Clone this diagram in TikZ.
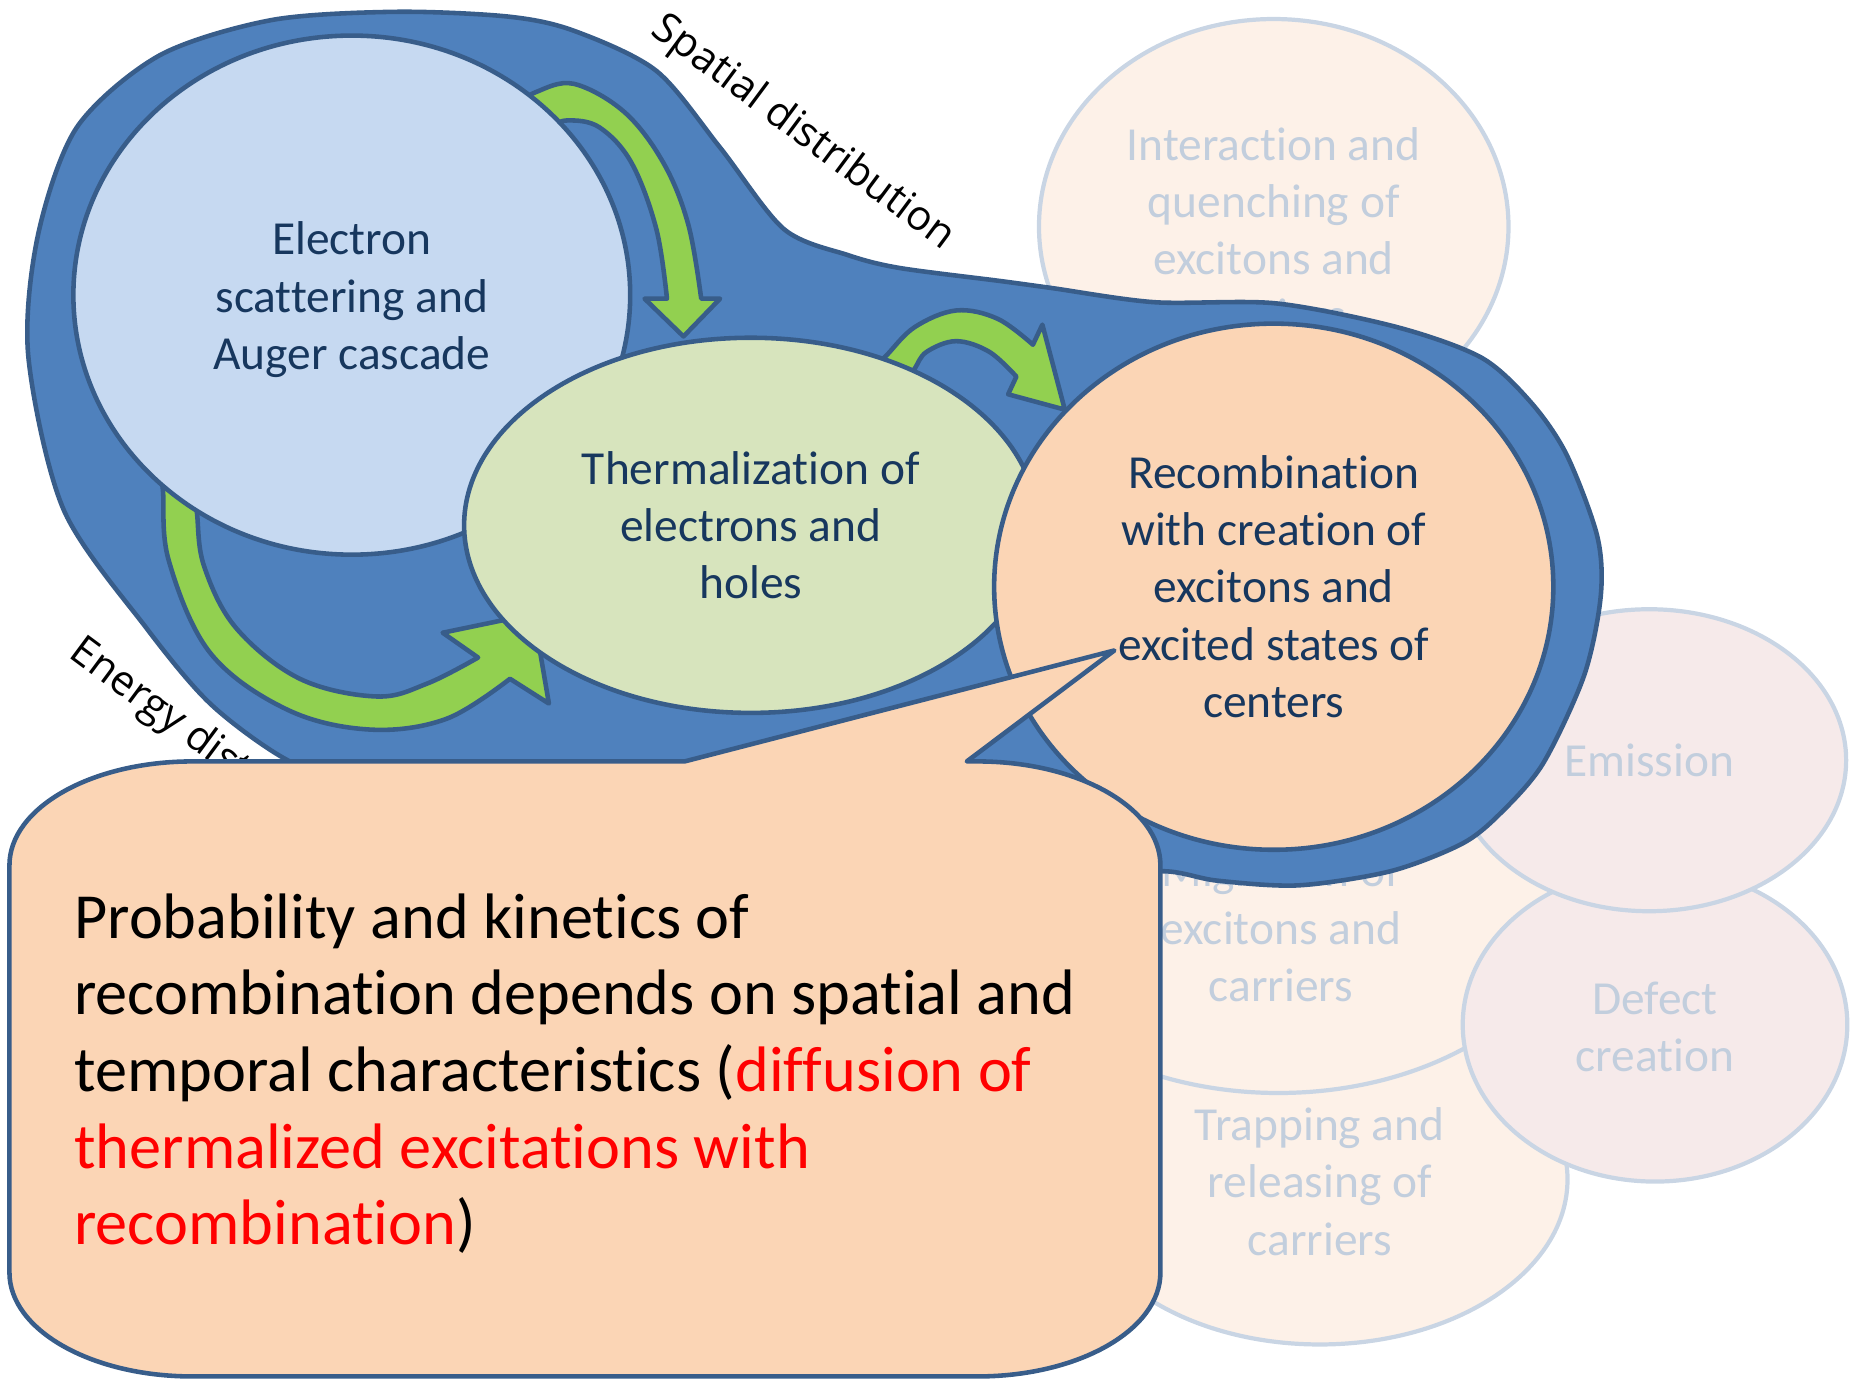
\documentclass[tikz,border=0pt]{standalone}
\usepackage{fontspec}
\setmainfont{Carlito}[Ligatures={NoCommon,NoRequired,NoContextual}]
\newfontfamily\labelfont{Open Sans}
\usetikzlibrary{shapes.geometric}
\definecolor{blobfill}{HTML}{4F81BD}
\definecolor{edgeblue}{HTML}{385D8A}
\definecolor{greenA}{HTML}{92D050}
\definecolor{elecfill}{HTML}{C6D9F1}
\definecolor{thermfill}{HTML}{D7E4BD}
\definecolor{recfill}{HTML}{FBD5B5}
\definecolor{fadepeach}{HTML}{FDF1E8}
\definecolor{fadepink}{HTML}{F6EAEA}
\definecolor{fadeedge}{HTML}{C9D5E4}
\definecolor{fadetext}{HTML}{C2CEDD}
\definecolor{navytext}{HTML}{17375E}
\begin{document}
\begin{tikzpicture}[x=0.011805cm, y=-0.011805cm,
  every node/.style={inner sep=0pt, outer sep=0pt},
  esize/.style 2 args={minimum width=#1*0.02361cm, minimum height=#2*0.02361cm},
  nodefont/.style={font=\fontsize{13.5}{16.3}\selectfont},
  bigshape/.style={ellipse, draw=edgeblue, line width=1.3pt, text=navytext, align=center, nodefont},
  fadeshape/.style={ellipse, draw=fadeedge, line width=1.2pt, text=fadetext, align=center, nodefont},
  garrow/.style={fill=greenA, draw=edgeblue, line width=1.3pt, line join=round},
  blobstyle/.style={fill=blobfill, draw=edgeblue, line width=1.3pt},
  calloutstyle/.style={fill=recfill, draw=edgeblue, line width=1.3pt, line join=round},
  sidelabel/.style={font=\labelfont\fontsize{11.8}{13}\selectfont, text=black, rotate=-36.6}]
\useasboundingbox (0,0) rectangle (1568,1169);

% faded background stages
\node[fadeshape, fill=fadepeach, esize={199}{176}] (inter) at (1079,192) {};
\node[text=fadetext, align=center, nodefont] (intertext) at (1079,194.5) {Interaction and\\quenching of\\excitons and\\carriers};
\node[fadeshape, fill=fadepeach, esize={210}{140}] (trap) at (1118,999) {};
\node[text=fadetext, align=center, nodefont] (traptext) at (1118,1001) {Trapping and\\releasing of\\carriers};
\node[fadeshape, fill=fadepeach, esize={260}{185}] (migr) at (1083,741) {};
\node[text=fadetext, align=center, nodefont] (migrtext) at (1085,786) {Migration of\\excitons and\\carriers};
\node[fadeshape, fill=fadepink, esize={163}{133}] (defect) at (1402,868) {};
\node[text=fadetext, align=center, nodefont] (defecttext) at (1402,870) {Defect\\creation};
\node[fadeshape, fill=fadepink, esize={167}{128}] (emis) at (1397,644) {Emission};

% blue blob
\draw[blobstyle] plot[smooth cycle, tension=0.5] coordinates {
 (983,738) (900,748) (780,740) (600,715) (420,690) (300,665) (240,642)
 (178,596) (124,532) (54,432) (24,302) (32,200) (65,108) (135,47)
 (230,17) (335,10) (430,14) (486,26) (556,60) (610,125) (664,194)
 (718,216) (762,227) (847,238) (891,244) (978,256) (1081,257) (1183,277)
 (1255,303) (1297,341) (1327,385) (1353,454) (1356,505) (1342,572)
 (1307,647) (1270,690) (1238,715) (1178,738) (1100,750) (1031,746)};

\node[sidelabel] (spatial) at (680,113) {Spatial distribution};
\node[sidelabel, anchor=west] (energy) at (63,549) {Energy distribution};

% green arrows
\draw[garrow] plot[smooth, tension=0.6] coordinates {(440,88) (454,78) (486,71) (529,95) (562,138) (583,190) (594,253)}
  -- (610,253) -- (579,285) -- (546,253) -- (565,253)
  -- plot[smooth, tension=0.6] coordinates {(565,253) (556,194) (535,138) (508,108) (481,102) (465,108) (455,115)} -- cycle;
\draw[garrow] plot[smooth, tension=0.6] coordinates {(135,395) (138,415) (143,475) (178,553) (243,601) (313,618) (378,609) (432,575)}
  -- (465,596) -- (452,520) -- (375,536) -- (405,557)
  -- plot[smooth, tension=0.6] coordinates {(405,557) (362,579) (319,590) (254,575) (200,532) (173,480) (167,436) (166,415)} -- cycle;
\draw[garrow] plot[smooth, tension=0.6] coordinates {(740,312) (751,301) (775,277) (810,263) (845,270) (875,292)}
  -- (883,275) -- (902,347) -- (854,334) -- (861,319)
  -- plot[smooth, tension=0.6] coordinates {(861,319) (838,298) (810,289) (785,298) (775,312) (768,322)} -- cycle;

% main stages
\node[bigshape, fill=elecfill, esize={236}{220}] (elec) at (298,250) {};
\node[text=navytext, align=center, nodefont] (electext) at (298,254) {Electron\\scattering and\\Auger cascade};
\node[bigshape, fill=thermfill, esize={243}{159}] (therm) at (636,445) {Thermalization of\\electrons and\\holes};
\node[bigshape, fill=recfill, esize={237}{223}] (recomb) at (1079,497) {Recombination\\with creation of\\excitons and\\excited states of\\centers};

% callout
\draw[calloutstyle] (163,645) -- (580,645) -- (944,551) -- (819,645) -- (828,645)
  .. controls (913.6,645) and (983,684.4) .. (983,733)
  -- (983,1078)
  .. controls (983,1126.6) and (913.6,1166) .. (828,1166)
  -- (163,1166)
  .. controls (77.4,1166) and (8,1126.6) .. (8,1078)
  -- (8,733)
  .. controls (8,684.4) and (77.4,645) .. (163,645) -- cycle;
\node[anchor=north west, align=left, text=black, font=\fontsize{18.3}{21.8}\selectfont] (calltext) at (63,757)
 {Probability and kinetics of\\recombination depends on spatial and\\temporal characteristics (\textcolor{red}{diffusion of}\\\textcolor{red}{thermalized excitations with}\\\textcolor{red}{recombination})};
\end{tikzpicture}
\end{document}
